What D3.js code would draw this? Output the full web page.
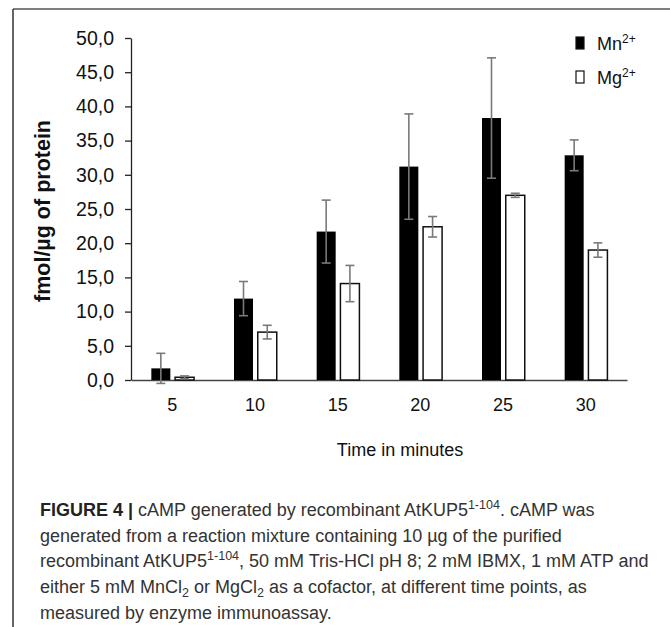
<!DOCTYPE html>
<html>
<head>
<meta charset="utf-8">
<script src="https://cdn.jsdelivr.net/npm/d3@7"></script>
<style>
  html, body { margin: 0; padding: 0; background: #fff; }
  svg { display: block; }
</style>
</head>
<body>
<svg id="chart" width="670" height="627"></svg>
<script>
// ---- data ----
const categories = ["5", "10", "15", "20", "25", "30"];
const seriesNames = ["Mn", "Mg"];
const mnValues = [1.7, 11.9, 21.7, 31.2, 38.3, 32.85];
const mnErrors = [2.2, 2.5, 4.6, 7.7, 8.8, 2.25];
const mgValues = [0.4, 7.0, 14.1, 22.4, 27.0, 19.0];
const mgErrors = [0.2, 1.0, 2.65, 1.5, 0.3, 1.05];
const yTicks = [0, 5, 10, 15, 20, 25, 30, 35, 40, 45, 50];

const svg = d3.select("#chart");
const W = 670, H = 627;
const m = { left: 131, right: 627, top: 38, bottom: 380 };

// frame
svg.append("line").attr("x1", 13).attr("x2", W).attr("y1", 9).attr("y2", 9)
  .attr("stroke", "#555").attr("stroke-width", 1.5);
svg.append("line").attr("x1", 13).attr("x2", 13).attr("y1", 9).attr("y2", H)
  .attr("stroke", "#333").attr("stroke-width", 1.5);

const x = d3.scaleBand().domain(categories).range([m.left, m.right]).paddingInner(0).paddingOuter(0);
const y = d3.scaleLinear().domain([0, 50]).range([m.bottom, m.top]);
const fmt = d => d3.format(".1f")(d).replace(".", ",");

// y axis
const yAxis = svg.append("g").attr("transform", `translate(${m.left},0)`)
  .call(d3.axisLeft(y).tickValues(yTicks).tickFormat(fmt).tickSize(6).tickSizeOuter(0));
yAxis.select(".domain").attr("stroke", "#222").attr("stroke-width", 1.3);
yAxis.selectAll(".tick line").attr("stroke", "#222").attr("stroke-width", 1.3);
yAxis.selectAll(".tick text").attr("x", -17).attr("font-family", "Liberation Sans, Arial, sans-serif")
  .attr("font-size", 19.5).attr("fill", "#111");

// x axis
const xAxis = svg.append("g").attr("transform", `translate(0,${m.bottom})`)
  .call(d3.axisBottom(x).tickSize(0).tickSizeOuter(0));
xAxis.select(".domain").attr("stroke", "#444").attr("stroke-width", 1.3);
xAxis.selectAll(".tick text").attr("y", 18).attr("dy", "0.71em")
  .attr("font-family", "Liberation Sans, Arial, sans-serif").attr("font-size", 18).attr("fill", "#111");

// bars
const barW = 19, gap = 2;
const data = categories.map((c, i) => ({ c, mn: mnValues[i], mnE: mnErrors[i], mg: mgValues[i], mgE: mgErrors[i] }));
const cx = c => x(c) + x.bandwidth() / 2;

svg.append("g").selectAll("rect.mn").data(data).join("rect")
  .attr("x", d => cx(d.c) - gap - barW).attr("width", barW)
  .attr("y", d => y(d.mn)).attr("height", d => y(0) - y(d.mn))
  .attr("fill", "#000");
svg.append("g").selectAll("rect.mg").data(data).join("rect")
  .attr("x", d => cx(d.c) + gap + 0.75).attr("width", barW)
  .attr("y", d => y(d.mg)).attr("height", d => y(0) - y(d.mg))
  .attr("fill", "#fff").attr("stroke", "#111").attr("stroke-width", 1.5);

// error bars
function errBars(getX, getV, getE) {
  const g = svg.append("g").attr("stroke", "#7a7a7a").attr("stroke-width", 1.6);
  data.forEach(d => {
    const xx = getX(d), v = getV(d), e = getE(d);
    g.append("line").attr("x1", xx).attr("x2", xx).attr("y1", y(v + e)).attr("y2", y(v - e));
    g.append("line").attr("x1", xx - 4.5).attr("x2", xx + 4.5).attr("y1", y(v + e)).attr("y2", y(v + e));
    g.append("line").attr("x1", xx - 4.5).attr("x2", xx + 4.5).attr("y1", y(v - e)).attr("y2", y(v - e));
  });
}
errBars(d => cx(d.c) - gap - barW / 2, d => d.mn, d => d.mnE);
errBars(d => cx(d.c) + gap + 0.75 + barW / 2, d => d.mg, d => d.mgE);

// axis titles
svg.append("text").attr("x", 400).attr("y", 456).attr("text-anchor", "middle")
  .attr("font-family", "Liberation Sans, Arial, sans-serif").attr("font-size", 18).attr("fill", "#111")
  .text("Time in minutes");
svg.append("text").attr("transform", "translate(50,211) rotate(-90)").attr("text-anchor", "middle")
  .attr("font-family", "Liberation Sans, Arial, sans-serif").attr("font-size", 21.5).attr("font-weight", "bold")
  .attr("fill", "#111").text("fmol/µg of protein");

// legend
const leg = svg.append("g");
seriesNames.forEach((s, i) => {
  const ly = 43 + i * 34;
  leg.append("rect").attr("x", 576).attr("y", ly - 6).attr("width", 8).attr("height", 12)
    .attr("fill", i === 0 ? "#000" : "#fff").attr("stroke", "#111").attr("stroke-width", 1.2);
  const t = leg.append("text").attr("x", 597).attr("y", ly + 7)
    .attr("font-family", "Liberation Sans, Arial, sans-serif").attr("font-size", 18).attr("fill", "#111");
  t.append("tspan").text(s);
  t.append("tspan").attr("dy", -7).attr("font-size", 12).text("2+");
});

// caption
const capFont = "Liberation Sans Narrow, Arial Narrow, Liberation Sans, sans-serif";
const cap = svg.append("g").attr("font-family", capFont).attr("font-size", 18).attr("fill", "#333");
const lines = [
  [["FIGURE 4 |", "b"], [" cAMP generated by recombinant AtKUP5", ""], ["1-104", "sup"], [". cAMP was", ""]],
  [["generated from a reaction mixture containing 10 µg of the purified", ""]],
  [["recombinant AtKUP5", ""], ["1-104", "sup"], [", 50 mM Tris-HCl pH 8; 2 mM IBMX, 1 mM ATP and", ""]],
  [["either 5 mM MnCl", ""], ["2", "sub"], [" or MgCl", ""], ["2", "sub"], [" as a cofactor, at different time points, as", ""]],
  [["measured by enzyme immunoassay.", ""]]
];
lines.forEach((ln, i) => {
  const t = cap.append("text").attr("x", 40).attr("y", 516 + i * 25.7);
  let shift = 0;
  ln.forEach(([txt, kind]) => {
    const ts = t.append("tspan").text(txt);
    if (kind === "b") ts.attr("font-weight", "bold").attr("fill", "#222");
    let target = 0;
    if (kind === "sup") { target = -7; ts.attr("font-size", 12.5); }
    if (kind === "sub") { target = 4; ts.attr("font-size", 12.5); }
    if (target !== shift) { ts.attr("dy", target - shift); shift = target; }
  });
});
</script>
</body>
</html>
